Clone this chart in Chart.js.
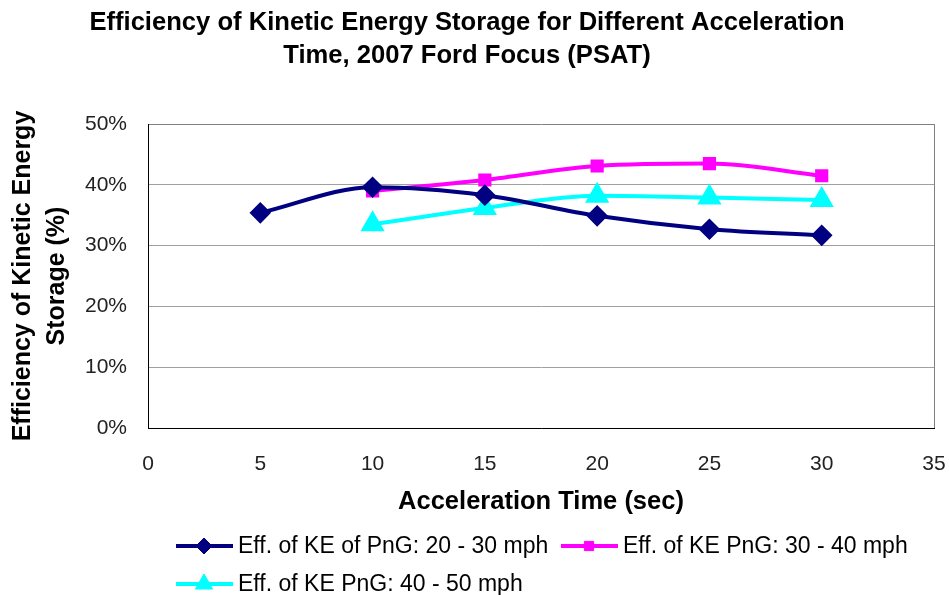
<!DOCTYPE html>
<html>
<head>
<meta charset="utf-8">
<script src="https://cdn.jsdelivr.net/npm/chart.js@4/dist/chart.umd.min.js"></script>
<style>
  html, body { margin: 0; padding: 0; background: #fff; }
  #wrap { width: 949px; height: 595px; }
</style>
</head>
<body>
<div id="wrap"><canvas id="myChart" width="949" height="595"></canvas></div>
<script>
// acceleration times (sec)
const timesLow = [5, 10, 15, 20, 25, 30]
const timesHigh = [10, 15, 20, 25, 30]
// efficiency of kinetic energy storage (%)
const eff2030 = [35.4, 39.6, 38.3, 34.9, 32.7, 31.7]
const eff3040 = [39.0, 40.8, 43.1, 43.5, 41.5]
const eff4050 = [33.5, 36.2, 38.2, 37.9, 37.5]
const seriesNames = [
  'Eff. of KE of PnG: 20 - 30 mph',
  'Eff. of KE PnG: 30 - 40 mph',
  'Eff. of KE PnG: 40 - 50 mph'
]
const xTicks = [0, 5, 10, 15, 20, 25, 30, 35]
const yTicks = [0, 10, 20, 30, 40, 50]

const FONT = "'Liberation Sans', Arial, Helvetica, sans-serif"

const toPoints = (xs, ys) => xs.map((x, i) => ({ x: x, y: ys[i] }))

// legend drawn below the axis title, Excel style (line + marker)
const legendSlots = [
  { x: 176, y: 546 },
  { x: 561, y: 546 },
  { x: 176, y: 584 }
]
const bottomLegend = {
  id: 'bottomLegend',
  afterDraw (chart) {
    const c = chart.ctx
    chart.data.datasets.forEach((ds, i) => {
      const s = legendSlots[i]
      c.save()
      c.strokeStyle = ds.borderColor
      c.lineWidth = ds.borderWidth
      c.beginPath()
      c.moveTo(s.x, s.y)
      c.lineTo(s.x + 57, s.y)
      c.stroke()
      c.fillStyle = ds.pointBackgroundColor
      c.strokeStyle = ds.pointBorderColor
      c.lineWidth = 1
      Chart.helpers.drawPoint(c, {
        pointStyle: ds.pointStyle,
        radius: ds.pointRadius,
        rotation: 0,
        borderWidth: 1
      }, s.x + 28, s.y)
      c.fillStyle = '#000'
      c.font = '23px ' + FONT
      c.textBaseline = 'middle'
      c.textAlign = 'left'
      c.fillText(ds.label, s.x + 62, s.y + 1)
      c.restore()
    })
  }
}

const ctx = document.getElementById('myChart')
const myChart = new Chart(ctx, {
  type: 'line',
  data: {
    datasets: [{
      label: seriesNames[0],
      data: toPoints(timesLow, eff2030),
      borderColor: '#000080',
      backgroundColor: '#000080',
      pointBackgroundColor: '#000080',
      pointBorderColor: '#000080',
      borderWidth: 4,
      pointStyle: 'rectRot',
      pointRadius: 8,
      cubicInterpolationMode: 'monotone'
    },
    {
      label: seriesNames[1],
      data: toPoints(timesHigh, eff3040),
      borderColor: '#FF00FF',
      backgroundColor: '#FF00FF',
      pointBackgroundColor: '#FF00FF',
      pointBorderColor: '#FF00FF',
      borderWidth: 4,
      pointStyle: 'rect',
      pointRadius: 6.5,
      cubicInterpolationMode: 'monotone'
    },
    {
      label: seriesNames[2],
      data: toPoints(timesHigh, eff4050),
      borderColor: '#00FFFF',
      backgroundColor: '#00FFFF',
      pointBackgroundColor: '#00FFFF',
      pointBorderColor: '#00FFFF',
      borderWidth: 4,
      pointStyle: 'triangle',
      pointRadius: 10,
      cubicInterpolationMode: 'monotone'
    }]
  },
  options: {
    responsive: false,
    animation: false,
    layout: { padding: { left: 0, right: 15, top: 0, bottom: 0 } },
    plugins: {
      legend: { display: false },
      tooltip: { enabled: false },
      title: {
        display: true,
        text: [
          'Efficiency of Kinetic Energy Storage for Different Acceleration',
          'Time, 2007 Ford Focus (PSAT)'
        ],
        color: '#000',
        font: { family: FONT, size: 25.6, weight: 'bold', lineHeight: 1.3 },
        padding: { top: 6, bottom: 51.5 }
      }
    },
    scales: {
      x: {
        type: 'linear',
        min: 0,
        max: 35,
        afterBuildTicks: (scale) => { scale.ticks = xTicks.map(v => ({ value: v })) },
        afterFit: (scale) => {
          scale.height = 167
          scale.paddingRight = 0
          scale.paddingLeft = 0
        },
        ticks: {
          color: '#222',
          font: { family: FONT, size: 21 },
          padding: 24,
          maxRotation: 0
        },
        grid: {
          drawTicks: false,
          color: (c) => (c.tick && c.tick.value === 35 ? '#808080' : 'rgba(0,0,0,0)')
        },
        border: { color: '#000', width: 1 },
        title: {
          display: true,
          text: 'Acceleration Time (sec)',
          color: '#000',
          font: { family: FONT, size: 25.5, weight: 'bold' },
          padding: { top: 0, bottom: 78 }
        }
      },
      y: {
        min: 0,
        max: 50,
        afterBuildTicks: (scale) => { scale.ticks = yTicks.map(v => ({ value: v })) },
        afterFit: (scale) => { scale.width = 148 },
        ticks: {
          color: '#222',
          font: { family: FONT, size: 21 },
          padding: 21,
          callback: (v) => v + '%'
        },
        grid: {
          drawTicks: false,
          color: (c) => (c.tick && c.tick.value === 50 ? '#808080' : '#a0a0a0')
        },
        border: { color: '#000', width: 1 },
        title: {
          display: true,
          text: ['Efficiency of Kinetic Energy', 'Storage (%)'],
          color: '#000',
          font: { family: FONT, size: 25, weight: 'bold', lineHeight: 1.36 },
          padding: { top: 6, bottom: 0 }
        }
      }
    }
  },
  plugins: [bottomLegend]
})
</script>
</body>
</html>
